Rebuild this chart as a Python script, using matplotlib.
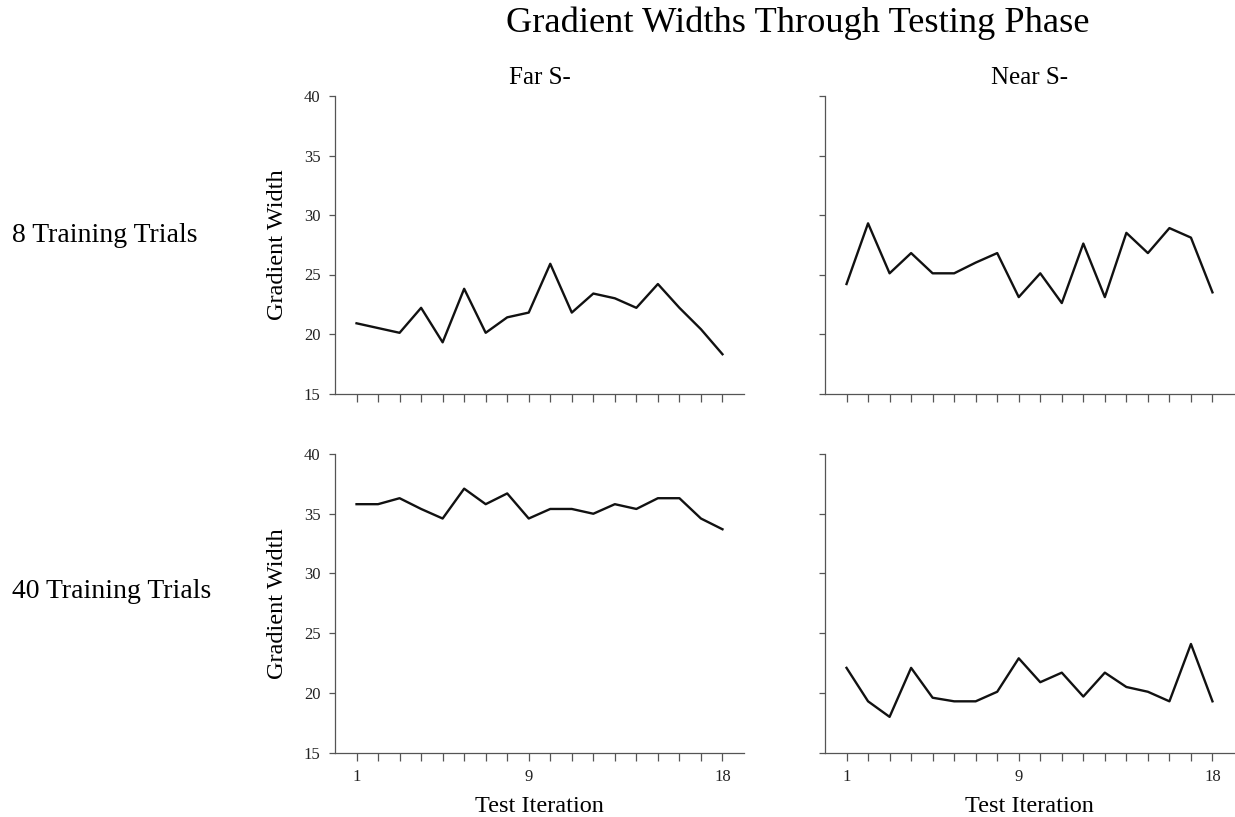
import numpy as np
import matplotlib
matplotlib.use('Agg')
import matplotlib.pyplot as plt

plt.rcParams['font.family'] = ['Liberation Serif', 'DejaVu Serif']

iterations = np.arange(1, 19)

# gradient widths per test iteration
far_8 = [20.9, 20.5, 20.1, 22.2, 19.3, 23.8, 20.1, 21.4, 21.8,
         25.9, 21.8, 23.4, 23.0, 22.2, 24.2, 22.2, 20.4, 18.3]
near_8 = [24.2, 29.3, 25.1, 26.8, 25.1, 25.1, 26.0, 26.8, 23.1,
          25.1, 22.6, 27.6, 23.1, 28.5, 26.8, 28.9, 28.1, 23.5]
far_40 = [35.8, 35.8, 36.3, 35.4, 34.6, 37.1, 35.8, 36.7, 34.6,
          35.4, 35.4, 35.0, 35.8, 35.4, 36.3, 36.3, 34.6, 33.7]
near_40 = [22.1, 19.3, 18.0, 22.1, 19.6, 19.3, 19.3, 20.1, 22.9,
           20.9, 21.7, 19.7, 21.7, 20.5, 20.1, 19.3, 24.1, 19.3]

col_titles = ['Far S-', 'Near S-']
row_titles = ['8 Training Trials', '40 Training Trials']
xtick_labels = ['1' if i == 1 else '9' if i == 9 else '18' if i == 18 else ''
                for i in iterations]
yticks = [15, 20, 25, 30, 35, 40]

fig = plt.figure(figsize=(12.35, 8.17), dpi=100)

W, H = 1235, 817
lefts = [335, 825]
tops = [96, 454]
bottoms = [393.5, 752.7]
width = 409

data = [[far_8, near_8], [far_40, near_40]]
spine_col = '#555555'

axes = []
for r in range(2):
    for c in range(2):
        ax = fig.add_axes([lefts[c] / W, 1 - bottoms[r] / H, width / W,
                           (bottoms[r] - tops[r]) / H])
        ax.plot(iterations, data[r][c], color='#111111', lw=1.7)
        ax.set_xlim(0, 19)
        ax.set_ylim(15, 40)
        ax.set_xticks(iterations)
        ax.set_yticks(yticks)
        for s in ['top', 'right']:
            ax.spines[s].set_visible(False)
        for s in ['left', 'bottom']:
            ax.spines[s].set_color(spine_col)
            ax.spines[s].set_linewidth(0.9)
        ax.tick_params(direction='out', width=0.9, color=spine_col,
                       labelsize=12, pad=6, labelcolor='#222222')
        ax.tick_params(axis='x', length=5.5)
        ax.tick_params(axis='y', length=4.5)
        if r == 1:
            ax.set_xticklabels(xtick_labels)
            ax.set_xlabel('Test Iteration', fontsize=17.5, labelpad=8)
        else:
            ax.set_xticklabels([])
            ax.set_title(col_titles[c], fontsize=18, pad=8.5)
        if c == 0:
            ax.set_ylabel('Gradient Width', fontsize=17.5)
            ax.yaxis.set_label_coords(-0.115, 0.5)
        else:
            ax.set_yticklabels([])
        axes.append(ax)

for r in range(2):
    yc = [236, 592][r]
    fig.text(12 / W, 1 - yc / H, row_titles[r], fontsize=20,
             ha='left', va='center')

fig.text(798 / W, 1 - 23 / H, 'Gradient Widths Through Testing Phase',
         fontsize=26.2, ha='center', va='center')

fig.savefig('out.png', dpi=100)
